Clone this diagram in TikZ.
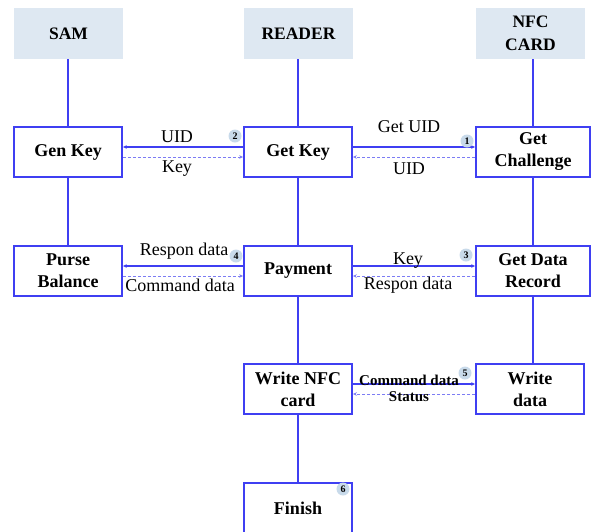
\documentclass[tikz,border=0pt]{standalone}
\usepackage{fontspec}
\setmainfont{Liberation Serif}
\usetikzlibrary{arrows.meta}
\definecolor{ln}{HTML}{3F3FF2}
\definecolor{lnlight}{HTML}{7C7CF4}
\definecolor{hdr}{HTML}{DEE8F2}
\definecolor{badgefill}{HTML}{C8DAEA}
\begin{document}
\begin{tikzpicture}[x=1pt,y=-1pt,
  hdrbox/.style={fill=hdr, minimum width=109pt, minimum height=51pt, inner sep=0pt,
    align=center, font=\bfseries\fontsize{17.5}{23}\selectfont},
  stepbox/.style={draw=ln, line width=1.8pt, fill=white, minimum width=108pt,
    minimum height=50pt, inner sep=0pt, align=center,
    font=\bfseries\fontsize{18}{22}\selectfont},
  life/.style={draw=ln, line width=1.6pt},
  msg/.style={draw=ln, line width=1.1pt, -{Stealth[length=4pt,width=3.5pt]}},
  reply/.style={draw=lnlight, line width=0.9pt, dash pattern=on 3pt off 2pt,
    -{Stealth[length=4pt,width=3.5pt]}},
  lbl/.style={font=\fontsize{18}{20}\selectfont, inner sep=0pt},
  blbl/.style={font=\bfseries\fontsize{15}{17}\selectfont, inner sep=0pt},
  badge/.style={circle, fill=badgefill, minimum size=13pt, inner sep=0pt,
    font=\bfseries\fontsize{10}{10}\selectfont}
]
\clip (0,0) rectangle (597,531);

% column headers
\node[hdrbox] (sam) at (68.5,33.5) {SAM};
\node[hdrbox] (reader) at (298.5,33.5) {READER};
\node[hdrbox] (nfc) at (530.5,33.5) {NFC\\CARD};

% steps
\node[stepbox] (genkey) at (68,152) {Gen Key};
\node[stepbox] (getkey) at (298,152) {Get Key};
\node[stepbox, minimum width=114pt] (chal) at (533,152) {Get\\Challenge};
\node[stepbox] (purse) at (68,271) {Purse\\Balance};
\node[stepbox] (pay) at (298,271) {Payment};
\node[stepbox, minimum width=114pt] (record) at (533,271) {Get Data\\Record};
\node[stepbox] (writenfc) at (298,389) {Write NFC\\card};
\node[stepbox] (writedata) at (530,389) {Write\\data};
\node[stepbox] (finish) at (298,508) {Finish};

% lifelines
\draw[life] (sam.south -| genkey.north) -- (genkey.north);
\draw[life] (genkey.south) -- (purse.north);
\draw[life] (reader.south -| getkey.north) -- (getkey.north);
\draw[life] (getkey.south) -- (pay.north);
\draw[life] (pay.south) -- (writenfc.north);
\draw[life] (writenfc.south) -- (finish.north);
\draw[life] (nfc.south -| chal.north) -- (chal.north);
\draw[life] (chal.south) -- (record.north);
\draw[life] (record.south) -- (writedata.north -| record.south);

% messages
\draw[msg] ([yshift=5pt]getkey.west) -- ([yshift=5pt]genkey.east);
\draw[reply] ([yshift=-5pt]genkey.east) -- ([yshift=-5pt]getkey.west);
\draw[msg] ([yshift=5pt]getkey.east) -- ([yshift=5pt]chal.west);
\draw[reply] ([yshift=-5pt]chal.west) -- ([yshift=-5pt]getkey.east);

\draw[msg] ([yshift=5pt]pay.west) -- ([yshift=5pt]purse.east);
\draw[reply] ([yshift=-5pt]purse.east) -- ([yshift=-5pt]pay.west);
\draw[msg] ([yshift=5pt]pay.east) -- ([yshift=5pt]record.west);
\draw[reply] ([yshift=-5pt]record.west) -- ([yshift=-5pt]pay.east);

\draw[msg] ([yshift=5pt]writenfc.east) -- ([yshift=5pt]writedata.west);
\draw[reply] ([yshift=-5pt]writedata.west) -- ([yshift=-5pt]writenfc.east);

% message labels
\node[lbl] (l1) at (177,137) {UID};
\node[lbl] (l2) at (177,169) {Key};
\node[lbl] (l3) at (409,127) {Get UID};
\node[lbl] (l4) at (409,169) {UID};
\node[lbl] (l5) at (184,251) {Respon data};
\node[lbl] (l6) at (180,285) {Command data};
\node[lbl] (l7) at (408,261) {Key};
\node[lbl] (l8) at (408,285) {Respon data};
\node[blbl] (l9) at (409,380) {Command data};
\node[blbl] (l10) at (409,397) {Status};

% step numbers
\node[badge] (b1) at (467,141) {1};
\node[badge] (b2) at (235,136) {2};
\node[badge] (b3) at (466,255) {3};
\node[badge] (b4) at (236,256) {4};
\node[badge] (b5) at (465,373) {5};
\node[badge] (b6) at (343,489) {6};
\end{tikzpicture}
\end{document}
